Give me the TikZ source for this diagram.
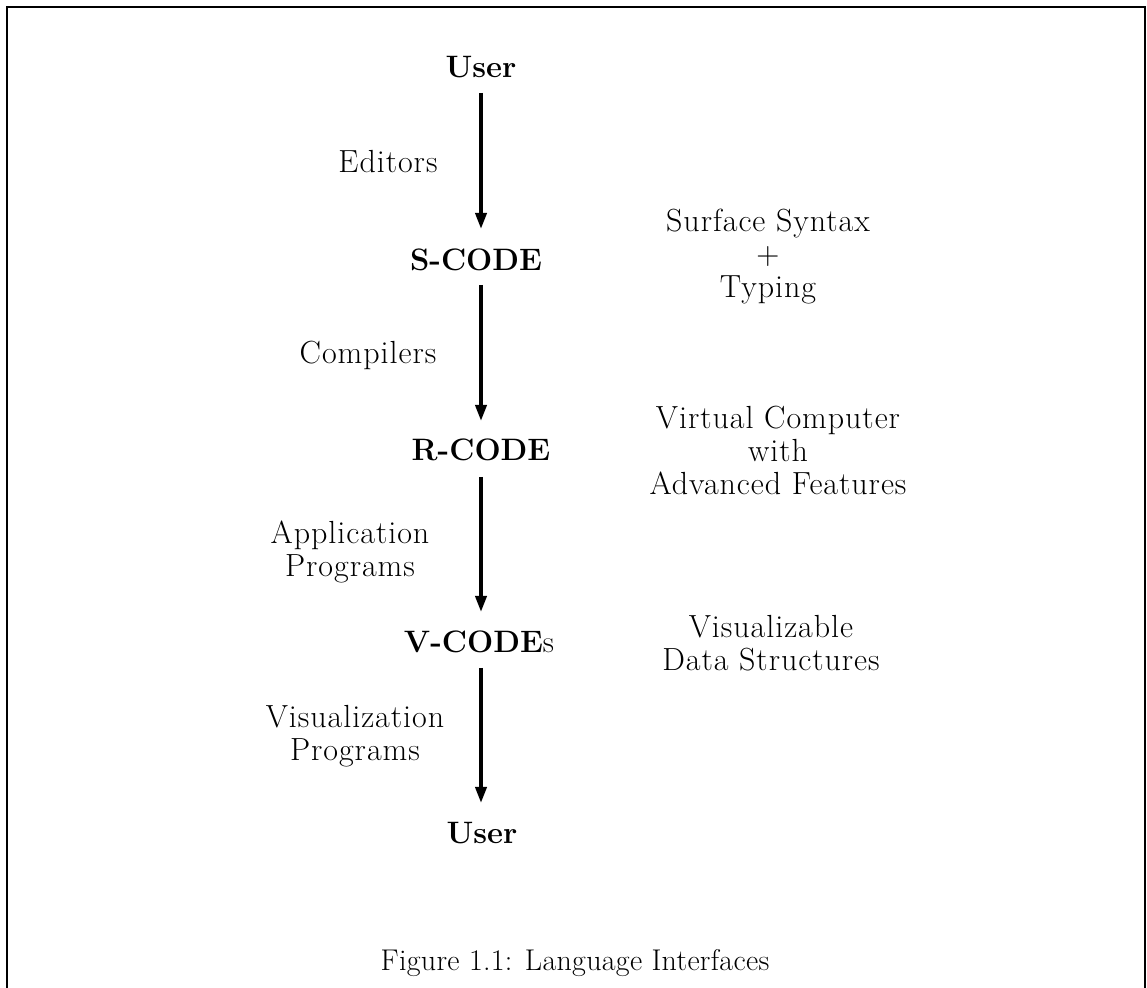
\documentclass[tikz,border=0pt]{standalone}
\usepackage{fontspec}
\setmainfont{Latin Modern Roman}
\newfontfamily\lblfont{Latin Modern Roman}[LetterSpace=3]
\newfontfamily\capfont{Latin Modern Roman}[LetterSpace=1]
\usetikzlibrary{arrows.meta}
\begin{document}
\begin{tikzpicture}[x=0.5pt,y=-0.5pt,
  every node/.style={inner sep=0pt},
  code/.style={font=\fontsize{15.5}{16.5}\selectfont\bfseries},
  lbl/.style={align=center, font=\lblfont\fontsize{16}{16.5}\selectfont},
  capt/.style={font=\capfont\fontsize{15}{16}\selectfont},
  arr/.style={line width=1.8pt, -{Triangle[length=8pt,width=5.5pt]}},
  frame/.style={line width=1pt}]
\useasboundingbox (0,0) rectangle (1147,988);
\draw[frame] (7,988) -- (7,7.5) -- (1145,7.5) -- (1145,988);

\node[code] (u1) at (481,67) {User};
\node[code] (s) at (476,260) {S-CODE};
\node[code] (r) at (481,450) {R-CODE};
\node[code] (v) at (479,642) {V-CODE{\mdseries s}};
\node[code] (u2) at (482,833) {User};

\coordinate (c1) at (481,93);  \coordinate (t1) at (481,229);
\coordinate (c2) at (481,285); \coordinate (t2) at (481,421);
\coordinate (c3) at (481,477); \coordinate (t3) at (481,612);
\coordinate (c4) at (481,668); \coordinate (t4) at (481,803);
\draw[arr] (c1) -- (t1);
\draw[arr] (c2) -- (t2);
\draw[arr] (c3) -- (t3);
\draw[arr] (c4) -- (t4);

\node[lbl] (e) at (388,162) {Editors};
\node[lbl] (cp) at (368,355) {Compilers};
\node[lbl] (ap) at (350,552) {Application\\Programs};
\node[lbl] (vp) at (355,736) {Visualization\\Programs};

\node[lbl] (ss) at (768,257) {Surface Syntax\\+\\Typing};
\node[lbl] (vc) at (778,450) {Virtual Computer\\with\\Advanced Features};
\node[lbl] (vd) at (771,643) {Visualizable\\Data Structures};

\node[capt] (cap) at (575,963) {Figure 1.1: Language Interfaces};
\end{tikzpicture}
\end{document}
